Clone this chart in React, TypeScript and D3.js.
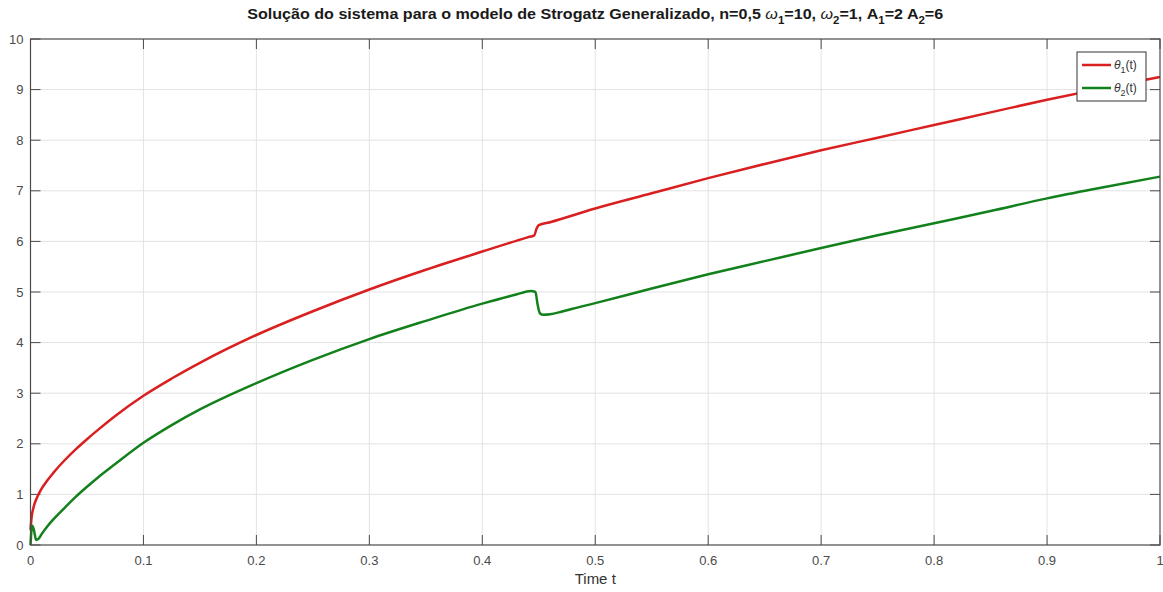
import React from "react";
import * as d3 from "d3";

// Time samples and solution values for the two oscillators
const timeTheta1 = [0, 0.001, 0.003, 0.006, 0.01, 0.015, 0.02, 0.03, 0.04, 0.05, 0.06, 0.075, 0.1, 0.125, 0.15, 0.2, 0.25, 0.3, 0.35, 0.4, 0.44, 0.446, 0.448, 0.45, 0.46, 0.5, 0.55, 0.6, 0.65, 0.7, 0.75, 0.8, 0.85, 0.9, 0.95, 1.0];
const theta1 = [0.3, 0.55, 0.77, 0.95, 1.12, 1.28, 1.42, 1.67, 1.89, 2.09, 2.28, 2.55, 2.95, 3.29, 3.6, 4.15, 4.62, 5.05, 5.44, 5.8, 6.08, 6.12, 6.25, 6.32, 6.38, 6.65, 6.95, 7.25, 7.53, 7.8, 8.05, 8.3, 8.55, 8.8, 9.03, 9.25];

const timeTheta2 = [0, 0.0015, 0.003, 0.005, 0.007, 0.01, 0.015, 0.02, 0.03, 0.04, 0.05, 0.06, 0.075, 0.1, 0.125, 0.15, 0.2, 0.25, 0.3, 0.35, 0.4, 0.43, 0.443, 0.447, 0.449, 0.451, 0.454, 0.46, 0.47, 0.48, 0.5, 0.55, 0.6, 0.65, 0.7, 0.75, 0.8, 0.85, 0.9, 0.95, 1.0];
const theta2 = [0.0, 0.38, 0.3, 0.1, 0.12, 0.22, 0.37, 0.5, 0.73, 0.95, 1.15, 1.34, 1.6, 2.02, 2.37, 2.68, 3.2, 3.66, 4.07, 4.43, 4.77, 4.95, 5.02, 5.0, 4.75, 4.58, 4.55, 4.56, 4.61, 4.67, 4.78, 5.07, 5.35, 5.61, 5.87, 6.12, 6.36, 6.6, 6.85, 7.07, 7.28];

const xTicks = [0, 0.1, 0.2, 0.3, 0.4, 0.5, 0.6, 0.7, 0.8, 0.9, 1];
const yTicks = [0, 1, 2, 3, 4, 5, 6, 7, 8, 9, 10];

const W = 1163;
const H = 592;
const plot = { left: 30.5, right: 1160, top: 39, bottom: 545 };

const RED = "#d91f1f";
const GREEN = "#13811b";
const AXIS = "#4a4a4a";
const GRID = "#e3e3e3";
const FONT = "'Liberation Sans', Arial, Helvetica, sans-serif";

export default function App() {
  const x = d3.scaleLinear().domain([0, 1]).range([plot.left, plot.right]);
  const y = d3.scaleLinear().domain([0, 10]).range([plot.bottom, plot.top]);

  const line = d3
    .line<[number, number]>()
    .x((d) => x(d[0]))
    .y((d) => y(d[1]))
    .curve(d3.curveMonotoneX);

  const p1 = line(timeTheta1.map((t, i) => [t, theta1[i]] as [number, number])) || "";
  const p2 = line(timeTheta2.map((t, i) => [t, theta2[i]] as [number, number])) || "";

  const tickLen = 10;

  // legend box
  const lg = { x: 1077, y: 52, w: 69, h: 49 };

  return (
    <svg
      width={W}
      height={H}
      style={{ position: "absolute", left: 0, top: 0, background: "#fff" }}
      fontFamily={FONT}
    >
      <rect x={0} y={0} width={W} height={H} fill="#fff" />
      {/* grid */}
      {xTicks.slice(1, -1).map((t) => (
        <line key={"gx" + t} x1={x(t)} x2={x(t)} y1={plot.top} y2={plot.bottom} stroke={GRID} strokeWidth={1} />
      ))}
      {yTicks.slice(1, -1).map((t) => (
        <line key={"gy" + t} x1={plot.left} x2={plot.right} y1={y(t)} y2={y(t)} stroke={GRID} strokeWidth={1} />
      ))}

      {/* ticks on all four sides, pointing inward */}
      {xTicks.map((t) => (
        <g key={"tx" + t}>
          <line x1={x(t)} x2={x(t)} y1={plot.bottom} y2={plot.bottom - tickLen} stroke={AXIS} />
          <line x1={x(t)} x2={x(t)} y1={plot.top} y2={plot.top + tickLen} stroke={AXIS} />
          <text x={x(t)} y={plot.bottom + 20} textAnchor="middle" fontSize={13} fill={AXIS}>
            {String(t)}
          </text>
        </g>
      ))}
      {yTicks.map((t) => (
        <g key={"ty" + t}>
          <line x1={plot.left} x2={plot.left + tickLen} y1={y(t)} y2={y(t)} stroke={AXIS} />
          <line x1={plot.right} x2={plot.right - tickLen} y1={y(t)} y2={y(t)} stroke={AXIS} />
          <text x={plot.left - 7} y={y(t) + 4.5} textAnchor="end" fontSize={13} fill={AXIS}>
            {t}
          </text>
        </g>
      ))}

      {/* curves */}
      <path d={p1} fill="none" stroke={RED} strokeWidth={2.5} strokeLinejoin="round" />
      <path d={p2} fill="none" stroke={GREEN} strokeWidth={2.5} strokeLinejoin="round" />

      {/* axes box */}
      <rect
        x={plot.left}
        y={plot.top}
        width={plot.right - plot.left}
        height={plot.bottom - plot.top}
        fill="none"
        stroke={AXIS}
        strokeWidth={1.2}
      />

      {/* title */}
      <text x={(plot.left + plot.right) / 2} y={19} textAnchor="middle" fontSize={15.5} fontWeight="bold" fill="#1a1a1a" textLength={696} lengthAdjust="spacingAndGlyphs">
        Solução do sistema para o modelo de Strogatz Generalizado, n=0,5{" "}
        <tspan fontStyle="italic" fontWeight="normal">ω</tspan>
        <tspan dy={5} fontSize={11}>1</tspan>
        <tspan dy={-5}>=10, </tspan>
        <tspan fontStyle="italic" fontWeight="normal">ω</tspan>
        <tspan dy={5} fontSize={11}>2</tspan>
        <tspan dy={-5}>=1, A</tspan>
        <tspan dy={5} fontSize={11}>1</tspan>
        <tspan dy={-5}>=2 A</tspan>
        <tspan dy={5} fontSize={11}>2</tspan>
        <tspan dy={-5}>=6</tspan>
      </text>

      {/* x label */}
      <text x={(plot.left + plot.right) / 2} y={584} textAnchor="middle" fontSize={15} fill="#333">
        Time t
      </text>

      {/* legend */}
      <rect x={lg.x} y={lg.y} width={lg.w} height={lg.h} fill="#fff" stroke="#333" strokeWidth={1} />
      {[
        { c: RED, s: "1", yy: lg.y + 13 },
        { c: GREEN, s: "2", yy: lg.y + 36 },
      ].map((e) => (
        <g key={e.s}>
          <line x1={lg.x + 5} x2={lg.x + 34} y1={e.yy} y2={e.yy} stroke={e.c} strokeWidth={2.5} />
          <text x={lg.x + 37} y={e.yy + 4} fontSize={12} fill="#333">
            <tspan fontStyle="italic">θ</tspan>
            <tspan dy={4} fontSize={9}>{e.s}</tspan>
            <tspan dy={-4}>(t)</tspan>
          </text>
        </g>
      ))}
    </svg>
  );
}
